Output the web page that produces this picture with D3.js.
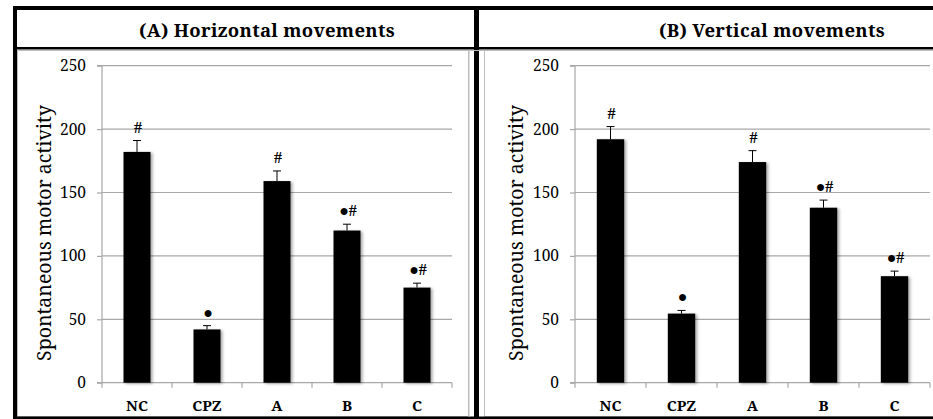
<!DOCTYPE html>
<html>
<head>
<meta charset="utf-8">
<script src="https://cdn.jsdelivr.net/npm/d3@7"></script>
<style>
  html, body { margin: 0; padding: 0; background: #fff; }
  svg { display: block; }
</style>
</head>
<body>
<script>
// ---------- data ----------
const categories = ["NC", "CPZ", "A", "B", "C"];
const horizontalValues = [182, 42, 159, 120, 75];
const horizontalErrors = [9, 3, 8, 5, 3.5];
const verticalValues = [192, 54.5, 174, 138, 84];
const verticalErrors = [10, 2.5, 9, 6, 4];
const markers = ["#", "●", "#", "●#", "●#"];
const yTicks = [0, 50, 100, 150, 200, 250];
const panelTitles = ["(A) Horizontal movements", "(B) Vertical movements"];
const yAxisTitle = "Spontaneous motor activity";

// ---------- layout ----------
const W = 933, H = 419;
const serif = "Noto Serif, Liberation Serif, serif";
const markFont = "Liberation Serif, serif";
const svg = d3.select("body").append("svg").attr("width", W).attr("height", H);

const defs = svg.append("defs");
const f = defs.append("filter").attr("id", "shadow").attr("x", "-20%").attr("y", "-5%").attr("width", "150%").attr("height", "115%");
f.append("feDropShadow").attr("dx", 2).attr("dy", 1).attr("stdDeviation", 1.4).attr("flood-color", "#000").attr("flood-opacity", 0.35);

svg.append("rect").attr("width", W).attr("height", H).attr("fill", "#fff");

// chart area borders (light grey)
svg.append("rect").attr("x", 17.5).attr("y", 50.5).attr("width", 451).attr("height", 366).attr("fill", "none").attr("stroke", "#bdbdbd");
svg.append("rect").attr("x", 484.5).attr("y", 50.5).attr("width", 460).attr("height", 366).attr("fill", "none").attr("stroke", "#bdbdbd");

const panels = [
  { x0: 102, x1: 452, values: horizontalValues, errors: horizontalErrors, title: panelTitles[0], titleX: 267, yTitleX: 45 },
  { x0: 575, x1: 930, values: verticalValues, errors: verticalErrors, title: panelTitles[1], titleX: 772, yTitleX: 517 }
];

const y = d3.scaleLinear().domain([0, 250]).range([382.7, 65.7]);

panels.forEach(p => {
  const g = svg.append("g");
  const x = d3.scaleBand().domain(categories).range([p.x0, p.x1]).paddingInner(1 - 27 / 70).paddingOuter((1 - 27 / 70) / 2);
  const step = x.step();

  // gridlines
  g.selectAll(".grid").data(yTicks.filter(t => t > 0)).join("line")
    .attr("x1", p.x0).attr("x2", p.x1)
    .attr("y1", d => y(d)).attr("y2", d => y(d))
    .attr("stroke", "#a8a8a8").attr("stroke-width", 1.2);

  // y axis
  const yAxis = d3.axisLeft(y).tickValues(yTicks).tickSize(5).tickPadding(11).tickFormat(d3.format("d"));
  const ya = g.append("g").attr("transform", `translate(${p.x0},0)`).call(yAxis);
  ya.select(".domain").attr("stroke", "#a8a8a8").attr("stroke-width", 1.2).attr("d", `M-5,${y(250)}H0V${y(0)}H-5`);
  ya.selectAll(".tick line").attr("stroke", "#a8a8a8").attr("stroke-width", 1.2);
  ya.selectAll(".tick text").attr("font-family", serif).attr("font-size", 15.5).attr("fill", "#000");

  // x axis
  const xa = g.append("g").attr("transform", `translate(0,${y(0)})`)
    .call(d3.axisBottom(x).tickSize(0).tickPadding(18));
  xa.select(".domain").attr("stroke", "#a8a8a8").attr("stroke-width", 1.2).attr("d", `M${p.x0},0H${p.x1}`);
  xa.selectAll(".tick text").attr("font-family", serif).attr("font-size", 15).attr("font-weight", "bold").attr("fill", "#000");
  g.selectAll(".xtick").data(d3.range(categories.length + 1)).join("line")
    .attr("x1", i => p.x0 + i * step).attr("x2", i => p.x0 + i * step)
    .attr("y1", y(0)).attr("y2", y(0) + 5)
    .attr("stroke", "#a8a8a8").attr("stroke-width", 1.2);

  // bars
  g.selectAll(".bar").data(categories).join("rect")
    .attr("x", d => x(d)).attr("width", x.bandwidth())
    .attr("y", (d, i) => y(p.values[i]))
    .attr("height", (d, i) => y(0) - y(p.values[i]))
    .attr("fill", "#000").attr("filter", "url(#shadow)");

  // error bars (upper only)
  const eb = g.selectAll(".err").data(categories).join("g");
  eb.append("line")
    .attr("x1", d => x(d) + x.bandwidth() / 2).attr("x2", d => x(d) + x.bandwidth() / 2)
    .attr("y1", (d, i) => y(p.values[i])).attr("y2", (d, i) => y(p.values[i] + p.errors[i]))
    .attr("stroke", "#000").attr("stroke-width", 1);
  eb.append("line")
    .attr("x1", d => x(d) + x.bandwidth() / 2 - 4).attr("x2", d => x(d) + x.bandwidth() / 2 + 4)
    .attr("y1", (d, i) => y(p.values[i] + p.errors[i])).attr("y2", (d, i) => y(p.values[i] + p.errors[i]))
    .attr("stroke", "#000").attr("stroke-width", 1);

  // significance markers
  g.selectAll(".mark").data(categories).join("text")
    .attr("x", d => x(d) + x.bandwidth() / 2 + 1)
    .attr("y", (d, i) => y(p.values[i] + p.errors[i]) - 8)
    .attr("text-anchor", "middle")
    .attr("font-family", markFont).attr("font-size", 16).attr("font-weight", "bold").attr("fill", "#000")
    .text((d, i) => markers[i]);

  // y axis title
  svg.append("text")
    .attr("transform", `translate(${p.yTitleX + 6},${233}) rotate(-90)`)
    .attr("text-anchor", "middle")
    .attr("font-family", serif).attr("font-size", 19.5)
    .attr("fill", "#000")
    .text(yAxisTitle);

  // panel title
  svg.append("text")
    .attr("x", p.titleX).attr("y", 36.5)
    .attr("text-anchor", "middle")
    .attr("font-family", serif).attr("font-size", 18.5).attr("font-weight", "bold").attr("letter-spacing", 0.3)
    .attr("fill", "#000")
    .text(p.title);
});

// ---------- black frame ----------
const frame = svg.append("g").attr("fill", "#000");
frame.append("rect").attr("x", 13).attr("y", 6).attr("width", W - 13).attr("height", 4);
frame.append("rect").attr("x", 13).attr("y", 47).attr("width", W - 13).attr("height", 2.5);
frame.append("rect").attr("x", 13).attr("y", 416.5).attr("width", W - 13).attr("height", 2.5);
frame.append("rect").attr("x", 13).attr("y", 6).attr("width", 4).attr("height", H - 6);
frame.append("rect").attr("x", 474).attr("y", 6).attr("width", 5).attr("height", H - 6);
// thin grey lines beside the divider
svg.append("line").attr("x1", 469).attr("x2", 469).attr("y1", 50).attr("y2", 417).attr("stroke", "#bdbdbd");
svg.append("line").attr("x1", 17).attr("x2", W).attr("y1", 50.5).attr("y2", 50.5).attr("stroke", "#bdbdbd");
</script>
</body>
</html>
